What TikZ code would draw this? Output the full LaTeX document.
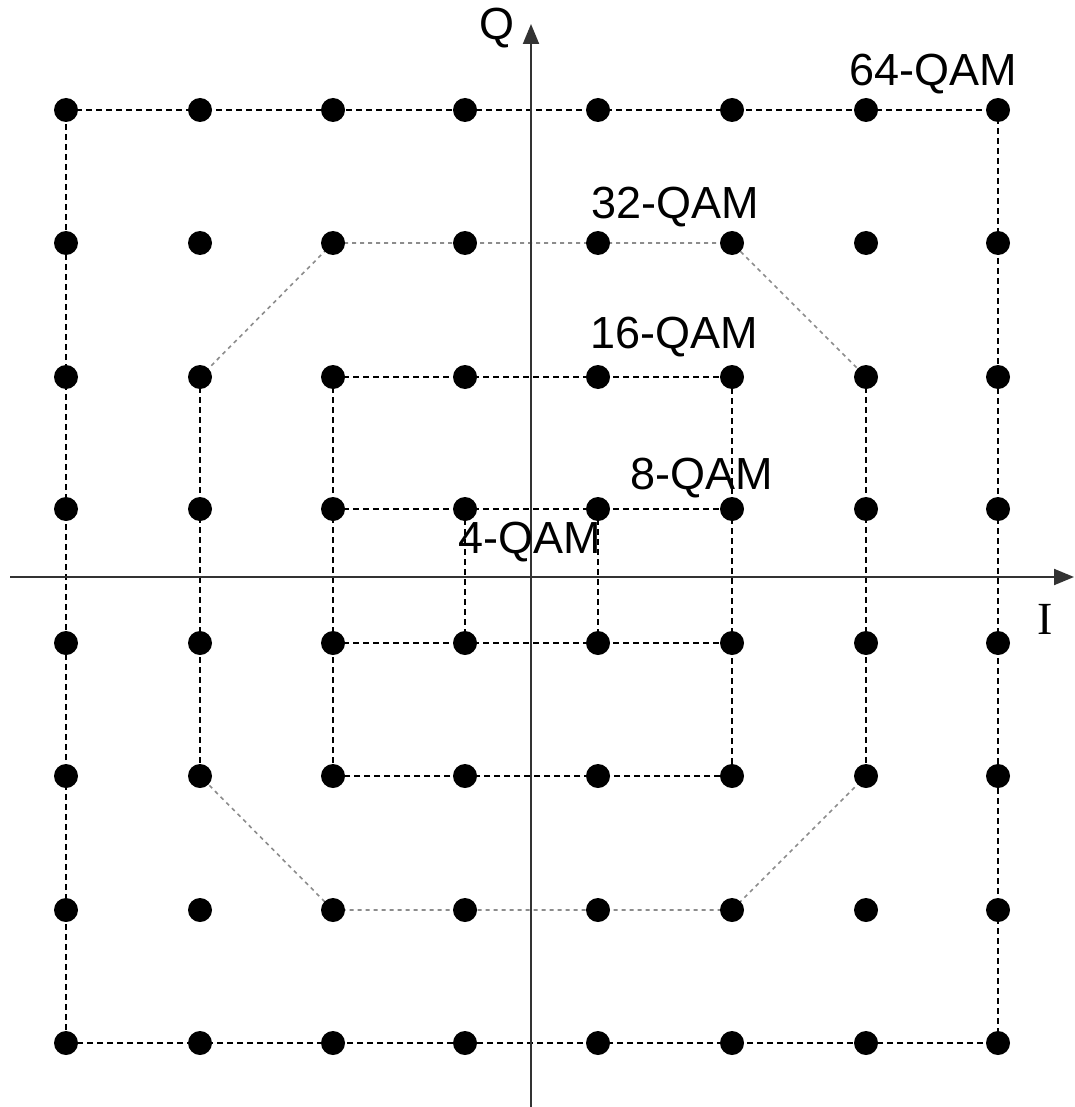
\documentclass[tikz,border=0pt]{standalone}
\usepackage{fontspec}
\setmainfont{Liberation Sans}
\newfontfamily\seriffont{Liberation Serif}
\usetikzlibrary{arrows.meta,backgrounds}
\definecolor{axisgray}{HTML}{333333}
\definecolor{octgray}{HTML}{8C8C8C}
\tikzset{
  dot/.style={circle,fill=black,inner sep=0pt,minimum size=24pt},
  blackdash/.style={line width=1.3pt,black,dash pattern=on 6pt off 4pt},
  graydash/.style={line width=1.6pt,octgray,dash pattern=on 4pt off 4pt},
  axis/.style={line width=2pt,axisgray,-{Triangle[length=20pt,width=16pt]}},
  lbl/.style={font=\fontsize{45}{54}\selectfont,inner sep=0pt},
}
\begin{document}
\begin{tikzpicture}[x=1pt,y=-1pt]
\useasboundingbox (0,0) rectangle (1074,1107);
\foreach \c/\x in {1/66,2/200,3/333,4/465,5/598,6/732,7/866,8/998}{
  \foreach \r/\y in {1/110,2/243,3/377,4/509,5/643,6/776,7/910,8/1043}{
    \node[dot] (p-\c-\r) at (\x,\y) {};
  }
}
\coordinate (ybot) at (531,1107);
\coordinate (ytop) at (531,24);
\coordinate (xl) at (10,577);
\coordinate (xr) at (1074,577);
\begin{scope}[on background layer]
  % 64-QAM
  \draw[blackdash] (p-1-1.center) -- (p-8-1.center) -- (p-8-8.center) -- (p-1-8.center) -- cycle;
  % 32-QAM
  \draw[graydash] (p-2-3.center) -- (p-3-2.center) -- (p-6-2.center) -- (p-7-3.center);
  \draw[graydash] (p-7-6.center) -- (p-6-7.center) -- (p-3-7.center) -- (p-2-6.center);
  \draw[blackdash] (p-2-3.center) -- (p-2-6.center);
  \draw[blackdash] (p-7-3.center) -- (p-7-6.center);
  % 16-QAM
  \draw[blackdash] (p-3-3.center) -- (p-6-3.center) -- (p-6-6.center) -- (p-3-6.center) -- cycle;
  % 8-QAM
  \draw[blackdash] (p-3-4.center) -- (p-6-4.center);
  \draw[blackdash] (p-3-5.center) -- (p-6-5.center);
  % 4-QAM
  \draw[blackdash] (p-4-4.center) -- (p-4-5.center);
  \draw[blackdash] (p-5-4.center) -- (p-5-5.center);
  % axes
  \draw[axis] (ybot) -- (ytop);
  \draw[axis] (xl) -- (xr);
\end{scope}
\node[lbl] (lq) at (497,28) {Q};
\node[inner sep=0pt,font=\seriffont\fontsize{46}{54}\selectfont] (li) at (1045,619) {I};
\node[lbl] (l64) at (933,74) {64-QAM};
\node[lbl] (l32) at (675,207) {32-QAM};
\node[lbl] (l16) at (674,337) {16-QAM};
\node[lbl] (l8) at (702,478) {8-QAM};
\node[lbl] (l4) at (530,542) {4-QAM};
\end{tikzpicture}
\end{document}
